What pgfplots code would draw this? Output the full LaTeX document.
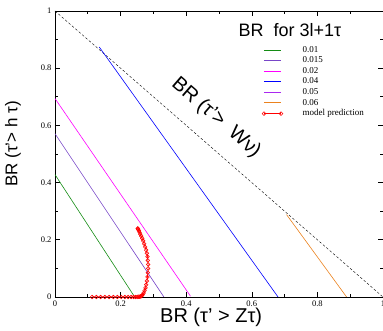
\documentclass[border=0pt]{standalone}
\usepackage{fontspec}
\setmainfont{Liberation Serif}
\newfontfamily\hv{Liberation Sans}
\usepackage{pgfplots}
\pgfplotsset{compat=1.18}
\definecolor{cgreen}{RGB}{20,140,20}
\definecolor{cpurple}{RGB}{120,70,200}
\definecolor{cmag}{RGB}{255,0,255}
\definecolor{cblue}{RGB}{0,0,255}
\definecolor{cviolet}{RGB}{170,40,240}
\definecolor{corange}{RGB}{235,130,30}
\begin{document}
\begin{tikzpicture}
\begin{axis}[
  width=328pt, height=286pt, scale only axis,
  xmin=0, xmax=1, ymin=0, ymax=1,
  xtick={0,0.2,0.4,0.6,0.8,1},
  ytick={0,0.2,0.4,0.6,0.8,1},
  minor xtick={0.1,0.3,0.5,0.7,0.9},
  minor ytick={0.1,0.3,0.5,0.7,0.9},
  tick align=inside,
  major tick length=5pt, minor tick length=3pt,
  tick style={black, line width=0.6pt},
  axis line style={line width=0.8pt},
  /pgf/number format/assume math mode=true,
  tick label style={font=\fontsize{8.5}{10}\selectfont},
  xlabel={\hv BR (τ’ > Zτ)},
  ylabel={\hv BR (τ’> h τ)},
  xlabel style={font=\hv\fontsize{20}{24}\selectfont, at={(axis description cs:0.476,-0.072)}, anchor=center},
  ylabel style={font=\hv\fontsize{17}{20}\selectfont, at={(axis description cs:-0.128,0.535)}, anchor=center},
  legend style={at={(rel axis cs:0.628,0.888)}, anchor=north west, draw=none, fill=none,
    font=\fontsize{9}{10}\selectfont, row sep=-0.9pt, inner sep=1pt},
  legend cell align=left,
  legend image code/.code={\draw[mark repeat=2,mark phase=2, line width=0.9pt] plot coordinates {(0cm,0cm) (0.3cm,0cm) (0.6cm,0cm)}; \path (1.28cm,0cm);},
]
\addplot[black, dashed, dash pattern=on 2.5pt off 2pt, forget plot] coordinates {(0,1) (1,0)};
\addplot[cgreen, line width=0.6pt] coordinates {(0,0.428) (0.243,0)};
\addlegendentry{0.01}
\addplot[cpurple, line width=0.6pt] coordinates {(0,0.571) (0.332,0)};
\addlegendentry{0.015}
\addplot[cmag, line width=0.6pt] coordinates {(0,0.694) (0.413,0.003)};
\addlegendentry{0.02}
\addplot[cblue, line width=0.6pt] coordinates {(0.135,0.874) (0.68,0)};
\addlegendentry{0.04}
\addlegendimage{cviolet, line width=0.6pt}
\addlegendentry{0.05}
\addplot[corange, line width=0.6pt] coordinates {(0.706,0.288) (0.889,0)};
\addlegendentry{0.06}
\addplot[red, line width=0.6pt, mark=o, mark size=1.8pt, mark options={solid, line width=0.6pt},
  legend image code/.code={\draw[mark repeat=1, line width=0.8pt] plot coordinates {(0cm,0cm) (0.6cm,0cm)}; \path (1.28cm,0cm);}]
 coordinates {
 (0.113,0) (0.126,0) (0.139,0) (0.152,0) (0.165,0) (0.178,0) (0.190,0) (0.202,0)
 (0.213,0) (0.223,0) (0.232,0) (0.240,0) (0.246,0) (0.251,0.0005) (0.255,0.001)
 (0.258,0.001) (0.261,0.002) (0.263,0.003) (0.265,0.005) (0.267,0.008) (0.270,0.014)
 (0.273,0.022) (0.276,0.032) (0.278,0.043) (0.280,0.056) (0.282,0.070) (0.283,0.085)
 (0.284,0.100) (0.284,0.114) (0.283,0.128) (0.282,0.141) (0.280,0.153) (0.278,0.164)
 (0.275,0.175) (0.272,0.186) (0.269,0.196) (0.266,0.205) (0.263,0.213) (0.260,0.220)
 (0.258,0.226) (0.256,0.231) (0.254,0.235) (0.253,0.238) (0.252,0.240)
 };
\addlegendentry{model prediction}
\node[font=\hv\fontsize{18}{21}\selectfont] at (rel axis cs:0.716,0.934) {BR\ \ for 3l+1τ};
\node[font=\hv\fontsize{20}{24}\selectfont, rotate=-41] at (axis cs:0.491,0.626) {BR (τ’>\ \ Wν)};
\end{axis}
\path (current axis.south west) ++(-55pt,-34pt) coordinate (bl);
\path (current axis.north east) ++(0pt,11pt) coordinate (tr);
\pgfresetboundingbox
\path[use as bounding box] (bl) rectangle (tr);
\end{tikzpicture}
\end{document}
